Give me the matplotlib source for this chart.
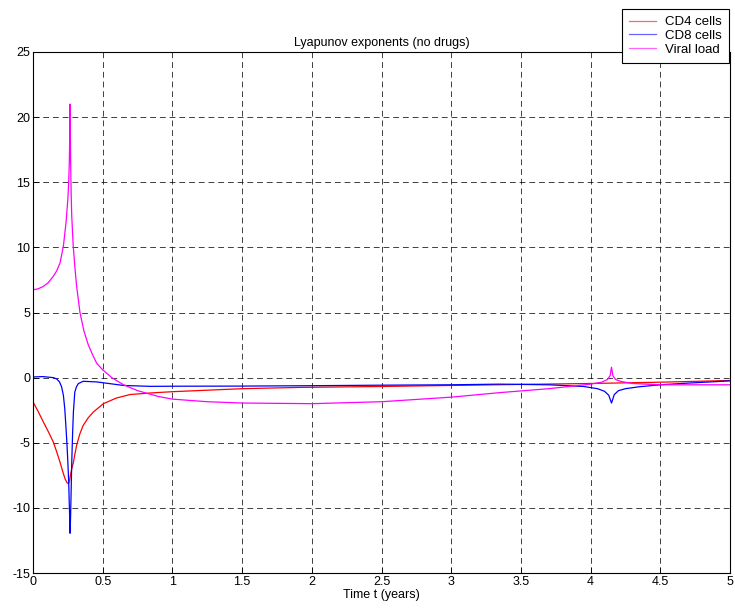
import numpy as np
import matplotlib
matplotlib.use('Agg')
import matplotlib.pyplot as plt

plt.rcParams['font.family'] = ['Liberation Sans', 'DejaVu Sans']
plt.rcParams['axes.unicode_minus'] = False

# CD4 cells
t_cd4 = [0, 0.037, 0.074, 0.11, 0.146, 0.17, 0.194, 0.213, 0.23, 0.243, 0.254, 0.262,
         0.27, 0.28, 0.29, 0.3, 0.313, 0.335, 0.36, 0.395, 0.433, 0.505, 0.6, 0.696,
         0.84, 1.0, 1.5, 1.92, 2.5, 3.0, 3.5, 4.0, 4.5, 5.0]
v_cd4 = [-1.87, -2.6, -3.4, -4.15, -4.95, -5.7, -6.5, -7.2, -7.77, -8.05, -8.15, -7.9,
         -7.4, -6.9, -6.5, -5.9, -5.2, -4.35, -3.67, -3.1, -2.64, -2.0, -1.56, -1.3,
         -1.18, -1.08, -0.85, -0.75, -0.68, -0.6, -0.52, -0.45, -0.35, -0.22]

# CD8 cells
t_cd8 = [0, 0.07, 0.146, 0.17, 0.19, 0.205, 0.218, 0.228, 0.237, 0.244, 0.25, 0.256,
         0.26, 0.264, 0.266, 0.27, 0.274, 0.278, 0.284, 0.29, 0.30, 0.312, 0.325, 0.36,
         0.457, 0.55, 0.648, 0.84, 1.0, 1.5, 2.0, 2.5, 3.0, 3.35, 3.7, 3.95, 4.05, 4.1,
         4.13, 4.15, 4.17, 4.2, 4.25, 4.35, 4.5, 4.7, 5.0]
v_cd8 = [0.05, 0.08, 0.0, -0.1, -0.33, -0.7, -1.36, -2.4, -3.9, -5.2, -6.5, -8.0,
         -9.6, -11.0, -11.95, -10.5, -8.5, -6.5, -4.3, -2.6, -1.1, -0.7, -0.46, -0.28,
         -0.33, -0.46, -0.6, -0.67, -0.66, -0.65, -0.62, -0.58, -0.55, -0.5, -0.55,
         -0.68, -0.85, -1.05, -1.35, -1.95, -1.3, -1.0, -0.85, -0.7, -0.55, -0.42, -0.25]

# Viral load
t_vir = [0, 0.037, 0.074, 0.11, 0.146, 0.17, 0.194, 0.218, 0.237, 0.25, 0.256, 0.26,
         0.263, 0.266, 0.27, 0.274, 0.278, 0.288, 0.30, 0.312, 0.325, 0.337, 0.365,
         0.397, 0.43, 0.457, 0.5, 0.565, 0.65, 0.75, 0.9, 1.0, 1.25, 1.5, 2.0, 2.5,
         3.0, 3.35, 3.7, 4.0, 4.08, 4.12, 4.14, 4.15, 4.16, 4.18, 4.22, 4.3, 4.5, 5.0]
v_vir = [6.74, 6.82, 7.0, 7.3, 7.78, 8.2, 8.8, 10.1, 11.9, 13.7, 15.0, 16.3,
         18.0, 21.0, 16.5, 14.0, 12.4, 10.2, 8.55, 7.1, 6.0, 5.0, 3.6,
         2.5, 1.7, 1.1, 0.6, 0.0, -0.55, -1.0, -1.45, -1.65, -1.85, -1.95, -2.0, -1.85,
         -1.5, -1.15, -0.85, -0.5, -0.35, -0.15, 0.15, 0.8, 0.15, -0.15, -0.3, -0.45, -0.55, -0.55]

xticks = [0, 0.5, 1, 1.5, 2, 2.5, 3, 3.5, 4, 4.5, 5]
xticklabels = ['0', '0.5', '1', '1.5', '2', '2.5', '3', '3.5', '4', '4.5', '5']
yticks = [-15, -10, -5, 0, 5, 10, 15, 20, 25]

fig = plt.figure(figsize=(7.35, 6.08), dpi=100)
ax = fig.add_axes([33/735, 1 - 573/608, 697/735, 521/608])

ax.plot(t_cd4, v_cd4, color='red', lw=0.9, label='CD4 cells')
ax.plot(t_cd8, v_cd8, color='blue', lw=0.9, label='CD8 cells')
ax.plot(t_vir, v_vir, color='magenta', lw=0.9, label='Viral load')

ax.set_xlim(0, 5)
ax.set_ylim(-15, 25)
ax.set_xticks(xticks)
ax.set_xticklabels(xticklabels)
ax.set_yticks(yticks)
ax.tick_params(direction='in', labelsize=9, length=4, width=0.6, pad=2)
ax.grid(True, color='black', linestyle=(0, (6, 4)), lw=0.7, alpha=0.75)
for s in ax.spines.values():
    s.set_linewidth(0.8)

ax.set_title('Lyapunov exponents (no drugs)', fontsize=9, pad=4)
ax.set_xlabel('Time t (years)', fontsize=9, labelpad=1)

leg = ax.legend(loc='upper right', bbox_to_anchor=(729/735, 1 - 9/608),
                bbox_transform=fig.transFigure, fontsize=9.5, frameon=True,
                fancybox=False, edgecolor='black', framealpha=1, borderaxespad=0,
                handlelength=2.0, borderpad=0.55, labelspacing=0.1, handletextpad=0.7)
leg.get_frame().set_linewidth(0.8)
leg.set_zorder(5)
for ln in leg.get_lines():
    ln.set_alpha(0.6)

fig.savefig('out.png', dpi=100)
